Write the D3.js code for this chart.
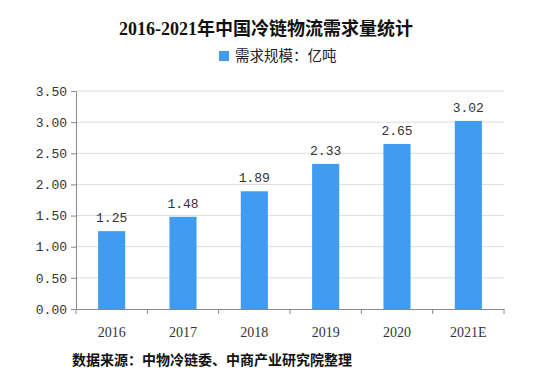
<!DOCTYPE html>
<html>
<head>
<meta charset="utf-8">
<script src="https://cdn.jsdelivr.net/npm/d3@7"></script>
<style>
  body { margin: 0; background: #fff; }
  svg { display: block; }
</style>
</head>
<body>
<svg id="chart" width="548" height="376"></svg>
<script>
const years = ['2016', '2017', '2018', '2019', '2020', '2021E'];
const demand = [1.25, 1.48, 1.89, 2.33, 2.65, 3.02];
const yTicks = [0, 0.5, 1, 1.5, 2, 2.5, 3, 3.5];

const svg = d3.select('#chart');
const margin = { top: 91, right: 44, bottom: 67, left: 76 };
const width = 548 - margin.left - margin.right;
const chartHeight = 376 - margin.top - margin.bottom;
const serif = '"Liberation Serif", "DejaVu Serif", "Noto Sans CJK SC", serif';
const mono = '"Liberation Mono", "DejaVu Sans Mono", monospace';
const cjk = '"Noto Sans CJK SC", sans-serif';

const g = svg.append('g').attr('transform', `translate(${margin.left},${margin.top})`);

const x = d3.scaleBand().domain(years).range([0, width]).paddingInner(0.62).paddingOuter(0.31);
const y = d3.scaleLinear().domain([0, 3.5]).range([chartHeight, 0]);

// Title
svg.append('text')
    .attr('x', 266)
    .attr('y', 35)
    .attr('text-anchor', 'middle')
    .attr('font-family', serif)
    .attr('font-weight', 'bold')
    .attr('font-size', '18px')
    .attr('fill', '#111')
    .text('2016-2021年中国冷链物流需求量统计');

// Legend
svg.append('rect')
    .attr('x', 219).attr('y', 51).attr('width', 10).attr('height', 10)
    .attr('fill', '#3f9cf0');
svg.append('text')
    .attr('x', 235)
    .attr('y', 61)
    .attr('font-family', cjk)
    .attr('font-size', '14.5px')
    .attr('fill', '#222')
    .text('需求规模：亿吨');

// Grid lines
g.append('g')
    .selectAll('line')
    .data(yTicks.filter(d => d > 0))
    .join('line')
    .attr('x1', 0).attr('x2', width)
    .attr('y1', d => y(d)).attr('y2', d => y(d))
    .attr('stroke', '#dcdcdc');

// Y-axis
const yAxis = g.append('g')
    .call(d3.axisLeft(y).tickValues(yTicks).tickFormat(d3.format('.2f')).tickSize(5).tickSizeOuter(0));
yAxis.select('.domain').attr('stroke', '#888');
yAxis.selectAll('line').attr('stroke', '#888');
yAxis.selectAll('text')
    .attr('font-family', mono)
    .attr('font-size', '13px')
    .attr('fill', '#333')
    .attr('x', -9);

// Bars
g.selectAll('.bar')
    .data(years)
    .join('rect')
    .attr('class', 'bar')
    .attr('x', d => x(d))
    .attr('width', x.bandwidth())
    .attr('y', (d, i) => y(demand[i]))
    .attr('height', (d, i) => chartHeight - y(demand[i]))
    .attr('fill', '#3f9cf0');

// Value labels
g.selectAll('.val')
    .data(years)
    .join('text')
    .attr('class', 'val')
    .attr('x', d => x(d) + x.bandwidth() / 2)
    .attr('y', (d, i) => y(demand[i]) - 9)
    .attr('text-anchor', 'middle')
    .attr('font-family', mono)
    .attr('font-size', '13px')
    .attr('fill', '#333')
    .text((d, i) => demand[i].toFixed(2));

// X-axis
const xAxis = g.append('g')
    .attr('transform', `translate(0,${chartHeight})`)
    .call(d3.axisBottom(x).tickSize(0).tickSizeOuter(0));
xAxis.select('.domain').attr('stroke', '#888');
xAxis.selectAll('text')
    .attr('font-family', serif)
    .attr('font-size', '14px')
    .attr('fill', '#333')
    .attr('dy', '1.75em');
// tick marks between categories
const step = x.step();
g.append('g')
    .selectAll('line')
    .data(d3.range(years.length + 1))
    .join('line')
    .attr('x1', i => x(years[0]) - x.paddingOuter() * step + i * step)
    .attr('x2', i => x(years[0]) - x.paddingOuter() * step + i * step)
    .attr('y1', chartHeight).attr('y2', chartHeight + 5)
    .attr('stroke', '#888');

// Source
svg.append('text')
    .attr('x', 72)
    .attr('y', 365)
    .attr('font-family', cjk)
    .attr('font-weight', 'bold')
    .attr('font-size', '14px')
    .attr('fill', '#111')
    .text('数据来源：中物冷链委、中商产业研究院整理');
</script>
</body>
</html>
